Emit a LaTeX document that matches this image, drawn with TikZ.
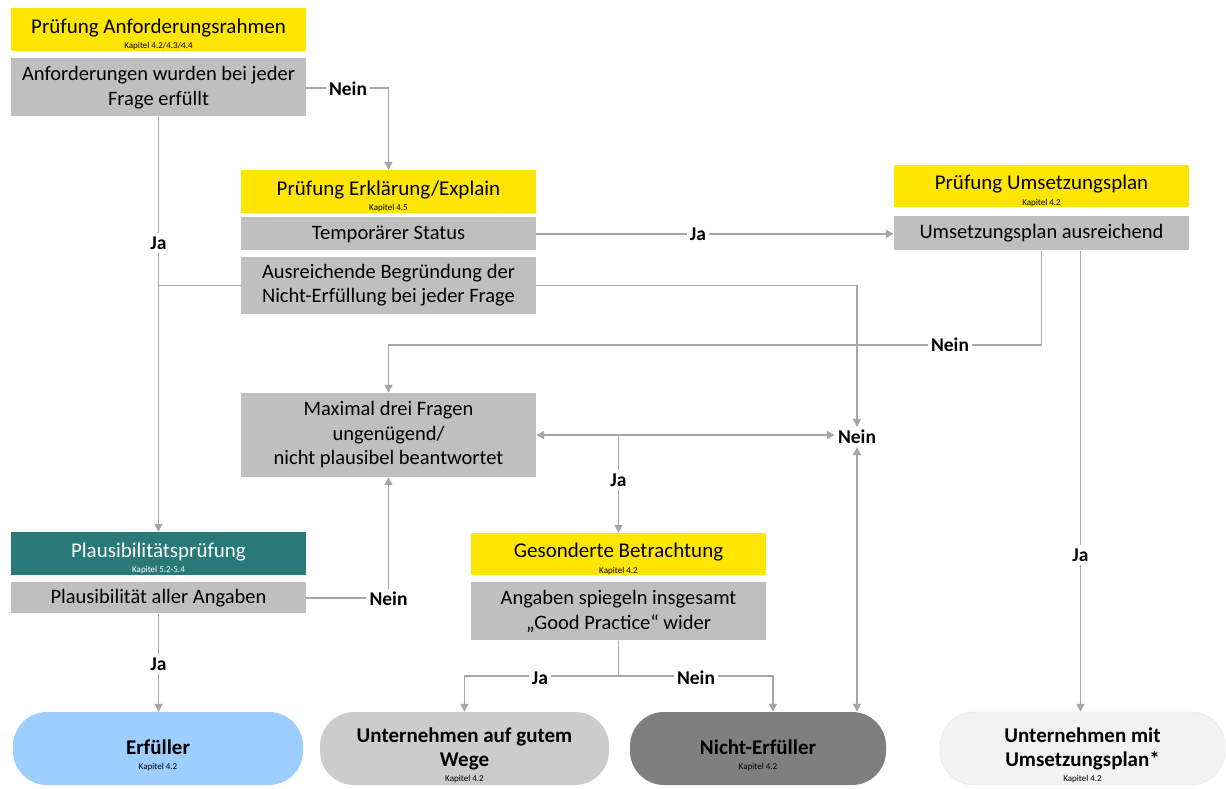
\documentclass[tikz,border=0pt]{standalone}
\usepackage{fontspec}
\setmainfont{Carlito}
\usepackage{tikz}
\usetikzlibrary{positioning, arrows.meta}
\definecolor{pruefyellow}{RGB}{255,230,0}
\definecolor{boxgray}{RGB}{191,191,191}
\definecolor{plausteal}{RGB}{40,122,121}
\definecolor{erfblue}{RGB}{156,206,255}
\definecolor{wegegray}{RGB}{204,204,204}
\definecolor{nichtgray}{RGB}{127,127,127}
\definecolor{umspale}{RGB}{242,242,242}
\definecolor{linegray}{RGB}{166,166,166}

\begin{document}
\begin{tikzpicture}[x=1pt, y=-1pt,
  head/.style={rectangle, minimum width=295pt, minimum height=43pt,
               inner sep=0pt, align=center, font=\fontsize{21}{24}\selectfont},
  frage/.style={rectangle, fill=boxgray, minimum width=295pt, inner sep=0pt,
                align=center, font=\fontsize{20.5}{24.5}\selectfont},
  ende/.style={rectangle, rounded corners=34pt, minimum height=73pt,
               inner sep=0pt, align=center, font=\fontsize{21}{24}\selectfont\bfseries},
  lbl/.style={font=\fontsize{19.5}{22}\selectfont\bfseries, inner sep=3pt},
  conn/.style={draw=linegray, line width=1.4pt},
  arr/.style={conn, -{Triangle[length=8pt,width=8pt]}},
  arr2/.style={conn, {Triangle[length=8pt,width=8pt]}-{Triangle[length=8pt,width=8pt]}}
]
  \useasboundingbox (0,0) rectangle (1226,789);
  \fill[white] (0,0) rectangle (1226,789);

  \node[head, fill=pruefyellow] (anfT) at (158.5,29.5) {\rule{0pt}{24pt}Prüfung Anforderungsrahmen\\[-8.5pt]{\fontsize{9}{10}\selectfont Kapitel 4.2/4.3/4.4}};
  \node[frage, minimum height=58pt, below=7pt of anfT] (anfQ) {Anforderungen wurden bei jeder\\Frage erfüllt};

  \node[head, fill=pruefyellow] (erkT) at (388.5,191.5) {\rule{0pt}{24pt}Prüfung Erklärung/Explain\\[-8.5pt]{\fontsize{9}{10}\selectfont Kapitel 4.5}};
  \node[frage, minimum height=33pt, below=4pt of erkT] (tempS) {Temporärer Status};
  \node[frage, minimum height=57pt, below=6pt of tempS] (ausrB) {Ausreichende Begründung der\\Nicht-Erfüllung bei jeder Frage};

  \node[head, fill=pruefyellow, minimum height=42pt] (umsT) at (1041.5,186) {\rule{0pt}{24pt}Prüfung Umsetzungsplan\\[-8.5pt]{\fontsize{9}{10}\selectfont Kapitel 4.2}};
  \node[frage, minimum height=34pt, below=9pt of umsT] (umsA) {Umsetzungsplan ausreichend};

  \node[frage, minimum height=84pt] (maxQ) at (388.5,435) {Maximal drei Fragen\\ungenügend/\\nicht plausibel beantwortet};

  \node[head, fill=plausteal, text=white] (plaT) at (158.5,553.5) {\rule{0pt}{24pt}Plausibilitätsprüfung\\[-8.5pt]{\fontsize{9}{10}\selectfont Kapitel 5.2-5.4}};
  \node[frage, minimum height=31pt, below=7pt of plaT] (plaA) {Plausibilität aller Angaben};

  \node[head, fill=pruefyellow, minimum height=42pt] (gesT) at (618.5,554) {\rule{0pt}{24pt}Gesonderte Betrachtung\\[-8.5pt]{\fontsize{9}{10}\selectfont Kapitel 4.2}};
  \node[frage, minimum height=58pt, below=7pt of gesT] (gesA) {Angaben spiegeln insgesamt\\„Good Practice“ wider};

  \node[ende, fill=erfblue, minimum width=290pt] (erf) at (158,748.5) {\rule{0pt}{29pt}Erfüller\\[-9pt]{\fontsize{9}{10}\selectfont\mdseries Kapitel 4.2}};
  \node[ende, fill=wegegray, minimum width=289pt] (weg) at (464.5,748.5) {\rule{0pt}{29pt}Unternehmen auf gutem\\Wege\\[-9pt]{\fontsize{9}{10}\selectfont\mdseries Kapitel 4.2}};
  \node[ende, fill=nichtgray, minimum width=256pt] (nicht) at (758,748.5) {\rule{0pt}{29pt}Nicht-Erfüller\\[-9pt]{\fontsize{9}{10}\selectfont\mdseries Kapitel 4.2}};
  \node[ende, fill=umspale, draw=black!10, minimum width=285pt] (umsE) at (1082.5,748.5) {\rule{0pt}{29pt}Unternehmen mit\\Umsetzungsplan*\\[-9pt]{\fontsize{9}{10}\selectfont\mdseries Kapitel 4.2}};

  \node[lbl] (neinA) at (348,89) {Nein};
  \node[lbl] (jaA) at (158.5,243) {Ja};
  \node[lbl] (jaT) at (698,234) {Ja};
  \node[lbl] (neinU) at (950,345) {Nein};
  \node[lbl] (neinM) at (857,437) {Nein};
  \node[lbl] (jaM) at (618.5,480) {Ja};
  \node[lbl] (jaU) at (1080.5,555) {Ja};
  \node[lbl] (neinP) at (388.5,599) {Nein};
  \node[lbl] (jaP) at (158.5,664) {Ja};
  \node[lbl] (jaG) at (540,678) {Ja};
  \node[lbl] (neinG) at (696,678) {Nein};
  \coordinate (maxSplit) at (maxQ.east -| gesT.north);
  \coordinate (gesSplit) at (618.5,676);

  \draw[conn] (anfQ.east |- 0,88) -- (neinA.west |- 0,88);
  \draw[arr] (neinA.east |- 0,88) -| (erkT);
  \draw[conn] (anfQ) -- (jaA);
  \draw[arr] (jaA) -- (plaT);
  \draw[conn] (ausrB.west) -- (ausrB.west -| anfQ.south);

  \draw[conn] (tempS.east) -- (tempS.east -| jaT.west);
  \draw[arr] (tempS.east -| jaT.east) -- (tempS.east -| umsA.west);
  \draw[arr] (ausrB.east) -| (neinM);

  \draw[conn] (umsA.south) |- (neinU);
  \draw[arr] (neinU) -| (maxQ.north);
  \draw[conn] ([xshift=39pt]umsA.south) -- (jaU);
  \draw[arr] (jaU) -- (jaU |- umsE.north);

  \draw[arr2] (maxQ.east) -- (maxQ.east -| neinM.west);
  \draw[conn] (maxSplit) -- (jaM);
  \draw[arr] (jaM) -- (gesT);
  \draw[arr2] (neinM) -- (neinM |- nicht.north);

  \draw[conn] (plaA.east) -- (plaA.east -| neinP.west);
  \draw[arr] (neinP) -- (maxQ.south);
  \draw[conn] (plaA) -- (jaP);
  \draw[arr] (jaP) -- (jaP |- erf.north);

  \draw[conn] (gesA) -- (gesSplit);
  \draw[conn] (gesSplit) -- (gesSplit -| jaG.east);
  \draw[arr] (gesSplit -| jaG.west) -| (weg);
  \draw[conn] (gesSplit) -- (gesSplit -| neinG.west);
  \draw[arr] (gesSplit -| neinG.east) -| ([xshift=15pt]nicht.north);
\end{tikzpicture}
\end{document}
